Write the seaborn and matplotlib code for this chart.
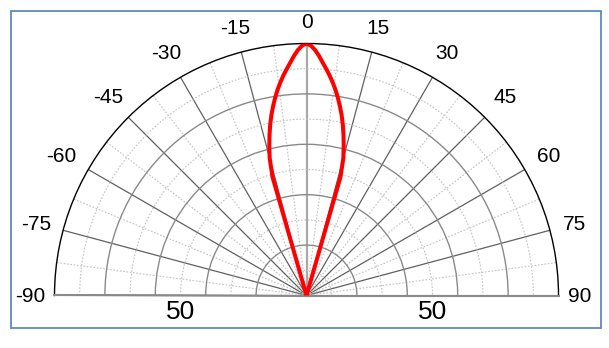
import numpy as np
import matplotlib
matplotlib.use("Agg")
import matplotlib.pyplot as plt
import seaborn as sns
from matplotlib.ticker import FixedLocator
from matplotlib.patches import Rectangle

# ---- data ----
angles_deg = [-17, -16, -15, -14, -13, -12, -11, -10, -9, -8, -7, -6, -5, -4, -3, -2, -1, 0,
              1, 2, 3, 4, 5, 6, 7, 8, 9, 10, 11, 12, 13, 14, 15, 16, 17]
intensity = [0, 49, 56.5, 61, 65.3, 69.3, 73, 76.3, 79.5, 82.5, 85.2, 87.8, 90.2, 92.6,
             95.2, 97.5, 99.2, 100,
             99.2, 97.5, 95.2, 92.6, 90.2, 87.8, 85.2, 82.5, 79.5, 76.3, 73, 69.3, 65.3,
             61, 56.5, 49, 0]
theta_ticks = [-90, -75, -60, -45, -30, -15, 0, 15, 30, 45, 60, 75, 90]
theta_labels = ["-90", "-75", "-60", "-45", "-30", "-15", "0",
                "15", "30", "45", "60", "75", "90"]
theta_minor = [-82.5, -67.5, -52.5, -37.5, -22.5, -7.5,
               7.5, 22.5, 37.5, 52.5, 67.5, 82.5]
r_major = [20, 40, 60, 80]
r_minor = [10, 30, 50, 70, 90]
r_max = 100
r_label_value = 50
r_label_text = "50"

plt.rcParams['font.family'] = ['Liberation Sans', 'DejaVu Sans']

W, H = 609, 348
fig = plt.figure(figsize=(W / 100, H / 100), dpi=100)
fig.patch.set_facecolor('white')

cx, cy, R = 306.5, 295.5, 252.0   # target centre / radius in pixels (from top-left)
ax = fig.add_axes([(cx - R) / W, (H - cy) / H, 2 * R / W, R / H], projection='polar')
ax.set_facecolor('white')
ax.set_theta_zero_location('N')
ax.set_theta_direction(-1)
ax.set_thetamin(-90)
ax.set_thetamax(90)
ax.set_rlim(0, r_max)

# radial grid
ax.set_yticks(r_major)
ax.yaxis.set_minor_locator(FixedLocator(r_minor))
ax.set_yticklabels([])
ax.tick_params(axis='y', which='both', length=0, labelleft=False, labelright=False)
ax.yaxis.grid(True, which='major', color='#8a8a8a', lw=1.0, ls='-')
ax.yaxis.grid(True, which='minor', color='#c2c2c2', lw=0.8, ls=(0, (1.5, 1.5)))

# angular grid
ax.set_xticks(np.deg2rad(theta_ticks))
ax.set_xticks(np.deg2rad(theta_minor), minor=True)
ax.set_xticklabels([])
ax.xaxis.grid(True, which='major', color='#606060', lw=0.9, ls='-')
ax.xaxis.grid(True, which='minor', color='#c2c2c2', lw=0.8, ls=(0, (1.5, 1.5)))
ax.tick_params(axis='x', which='both', direction='in', length=5, width=0.8,
               color='black', pad=0)
for tick in ax.xaxis.get_major_ticks():
    loc = np.rad2deg(tick.get_loc())
    if abs(loc) < 1e-6:
        tick.gridline.set_color('#a8a8a8')
        tick.gridline.set_linewidth(1.6)
    elif abs(abs(loc) - 90) < 1e-6:
        tick.gridline.set_color('#8a8a8a')
        tick.gridline.set_linewidth(1.5)

ax.spines['polar'].set_color('black')
ax.spines['polar'].set_linewidth(1.0)
for s in ('start', 'end'):
    ax.spines[s].set_color('#8a8a8a')
    ax.spines[s].set_linewidth(1.5)
ax.spines['inner'].set_visible(False)

# the lobe
sns.lineplot(x=np.deg2rad(angles_deg), y=intensity, sort=False, ax=ax,
             color='#ff0000', linewidth=2.9, zorder=5)

# angle labels
for t, lab in zip(theta_ticks, theta_labels):
    rl = r_max * (1.085 + 0.03 * abs(np.sin(np.deg2rad(2 * t))))
    dx = -2.2 if t <= -60 else 0
    ax.annotate(lab, xy=(np.deg2rad(t), rl), xytext=(dx, -0.5),
                textcoords='offset points', ha='center', va='center',
                fontsize=15, annotation_clip=False)

# radial value labels
for t in (-90, 90):
    ax.annotate(r_label_text, xy=(np.deg2rad(t), r_label_value), xytext=(0, -12),
                textcoords='offset points', ha='center', va='center',
                fontsize=19, annotation_clip=False)

ax.set_xlabel('')
ax.set_ylabel('')

# frame
fig.add_artist(Rectangle((11 / W, 20 / H), 590 / W, 317 / H, transform=fig.transFigure,
                         fill=False, ec='#5a8ac6', lw=1.3))

# fit the half disc to the target centre / radius (iteratively)
tx, ty = cx, H - cy
for _ in range(4):
    fig.canvas.draw()
    c = ax.transData.transform((0.0, 0.0))
    e = ax.transData.transform((np.pi / 2, r_max))
    mr = np.hypot(e[0] - c[0], e[1] - c[1])
    pos = ax.get_position(original=True)
    k = R / mr
    x0 = pos.x0 * W
    y0 = pos.y0 * H
    w = pos.width * W
    h = pos.height * H
    nx0 = tx - (c[0] - x0) * k
    ny0 = ty - (c[1] - y0) * k
    ax.set_position([nx0 / W, ny0 / H, w * k / W, h * k / H])

fig.savefig('out.png', dpi=100)
